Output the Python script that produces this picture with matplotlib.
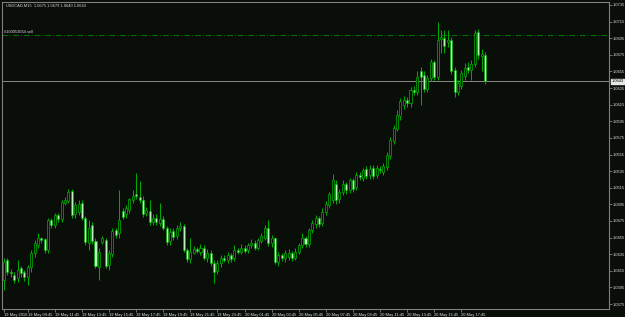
import numpy as np
import pandas as pd
import matplotlib
matplotlib.use('Agg')
import matplotlib.pyplot as plt

# USDCAD M15 candles (19 May 2016 08:00 onwards)
opens = [
    1.0404, 1.0428, 1.0414, 1.0410, 1.0406, 1.0418, 1.0413, 1.0408, 1.0419, 1.0436,
    1.0446, 1.0454, 1.0453, 1.0440, 1.0476, 1.0470, 1.0482, 1.0477, 1.0497, 1.0499,
    1.0511, 1.0483, 1.0486, 1.0497, 1.0479, 1.0449, 1.0470, 1.0451, 1.0420, 1.0450,
    1.0452, 1.0422, 1.0435, 1.0464, 1.0461, 1.0487, 1.0483, 1.0488, 1.0500, 1.0508,
    1.0504, 1.0500, 1.0484, 1.0487, 1.0474, 1.0479, 1.0473, 1.0477, 1.0467, 1.0451,
    1.0463, 1.0457, 1.0466, 1.0469, 1.0440, 1.0429, 1.0437, 1.0441, 1.0438, 1.0443,
    1.0431, 1.0436, 1.0424, 1.0415, 1.0424, 1.0430, 1.0428, 1.0434, 1.0430, 1.0440,
    1.0438, 1.0443, 1.0440, 1.0446, 1.0449, 1.0443, 1.0451, 1.0455, 1.0466, 1.0448,
    1.0454, 1.0426, 1.0434, 1.0430, 1.0432, 1.0436, 1.0431, 1.0438, 1.0446, 1.0454,
    1.0447, 1.0464, 1.0471, 1.0478, 1.0472, 1.0486, 1.0494, 1.0500, 1.0519, 1.0501,
    1.0510, 1.0519, 1.0512, 1.0524, 1.0516, 1.0530, 1.0527, 1.0538, 1.0530, 1.0539,
    1.0530, 1.0538, 1.0534, 1.0540, 1.0553, 1.0571, 1.0586, 1.0601, 1.0615, 1.0621,
    1.0617, 1.0633, 1.0630, 1.0655, 1.0651, 1.0634, 1.0647, 1.0666, 1.0648, 1.0694,
    1.0695, 1.0690, 1.0693, 1.0657, 1.0630, 1.0638, 1.0649, 1.0660, 1.0657, 1.0664,
    1.0702, 1.0674, 1.0675,
]
highs = [
    1.0431, 1.0431, 1.0417, 1.0413, 1.0428, 1.0421, 1.0416, 1.0422, 1.0440, 1.0452,
    1.0460, 1.0456, 1.0455, 1.0478, 1.0479, 1.0485, 1.0485, 1.0500, 1.0504, 1.0514,
    1.0514, 1.0498, 1.0500, 1.0500, 1.0481, 1.0476, 1.0474, 1.0454, 1.0442, 1.0457,
    1.0455, 1.0440, 1.0466, 1.0467, 1.0512, 1.0491, 1.0494, 1.0503, 1.0512, 1.0533,
    1.0523, 1.0505, 1.0492, 1.0500, 1.0483, 1.0483, 1.0497, 1.0481, 1.0469, 1.0466,
    1.0466, 1.0470, 1.0474, 1.0471, 1.0443, 1.0454, 1.0445, 1.0444, 1.0447, 1.0446,
    1.0441, 1.0440, 1.0428, 1.0428, 1.0434, 1.0434, 1.0438, 1.0437, 1.0446, 1.0443,
    1.0447, 1.0446, 1.0449, 1.0453, 1.0452, 1.0455, 1.0461, 1.0470, 1.0476, 1.0458,
    1.0456, 1.0438, 1.0437, 1.0440, 1.0441, 1.0439, 1.0442, 1.0449, 1.0461, 1.0457,
    1.0467, 1.0476, 1.0482, 1.0481, 1.0490, 1.0499, 1.0510, 1.0532, 1.0524, 1.0514,
    1.0524, 1.0522, 1.0527, 1.0527, 1.0534, 1.0534, 1.0539, 1.0541, 1.0542, 1.0542,
    1.0542, 1.0541, 1.0545, 1.0558, 1.0576, 1.0591, 1.0608, 1.0623, 1.0626, 1.0624,
    1.0636, 1.0638, 1.0655, 1.0660, 1.0655, 1.0651, 1.0670, 1.0669, 1.0714, 1.0705,
    1.0705, 1.0705, 1.0696, 1.0660, 1.0645, 1.0657, 1.0665, 1.0666, 1.0669, 1.0705,
    1.0706, 1.0682, 1.0679,
]
lows = [
    1.0392, 1.0410, 1.0408, 1.0400, 1.0402, 1.0407, 1.0403, 1.0398, 1.0414, 1.0432,
    1.0442, 1.0449, 1.0437, 1.0436, 1.0467, 1.0466, 1.0474, 1.0474, 1.0494, 1.0497,
    1.0478, 1.0478, 1.0482, 1.0476, 1.0446, 1.0440, 1.0447, 1.0418, 1.0404, 1.0447,
    1.0418, 1.0416, 1.0432, 1.0455, 1.0455, 1.0477, 1.0479, 1.0485, 1.0497, 1.0501,
    1.0497, 1.0480, 1.0481, 1.0470, 1.0470, 1.0470, 1.0469, 1.0464, 1.0446, 1.0446,
    1.0452, 1.0453, 1.0463, 1.0438, 1.0426, 1.0424, 1.0435, 1.0436, 1.0434, 1.0428,
    1.0426, 1.0421, 1.0400, 1.0411, 1.0420, 1.0425, 1.0424, 1.0426, 1.0427, 1.0435,
    1.0435, 1.0436, 1.0437, 1.0443, 1.0440, 1.0440, 1.0448, 1.0452, 1.0445, 1.0444,
    1.0423, 1.0421, 1.0427, 1.0425, 1.0428, 1.0427, 1.0428, 1.0435, 1.0443, 1.0444,
    1.0444, 1.0460, 1.0467, 1.0468, 1.0469, 1.0482, 1.0490, 1.0497, 1.0496, 1.0497,
    1.0506, 1.0508, 1.0509, 1.0510, 1.0512, 1.0524, 1.0523, 1.0526, 1.0526, 1.0526,
    1.0527, 1.0533, 1.0530, 1.0536, 1.0550, 1.0568, 1.0583, 1.0597, 1.0610, 1.0612,
    1.0612, 1.0627, 1.0627, 1.0615, 1.0630, 1.0630, 1.0643, 1.0645, 1.0645, 1.0677,
    1.0677, 1.0685, 1.0652, 1.0624, 1.0627, 1.0634, 1.0645, 1.0653, 1.0645, 1.0660,
    1.0670, 1.0656, 1.0640,
]
closes = [
    1.0426, 1.0413, 1.0412, 1.0404, 1.0416, 1.0412, 1.0407, 1.0419, 1.0436, 1.0448,
    1.0454, 1.0452, 1.0440, 1.0476, 1.0470, 1.0482, 1.0477, 1.0498, 1.0500, 1.0510,
    1.0482, 1.0494, 1.0496, 1.0479, 1.0450, 1.0467, 1.0451, 1.0421, 1.0438, 1.0454,
    1.0421, 1.0436, 1.0463, 1.0458, 1.0476, 1.0480, 1.0490, 1.0501, 1.0505, 1.0505,
    1.0500, 1.0483, 1.0488, 1.0474, 1.0478, 1.0474, 1.0477, 1.0467, 1.0450, 1.0462,
    1.0456, 1.0466, 1.0469, 1.0440, 1.0429, 1.0438, 1.0441, 1.0439, 1.0443, 1.0431,
    1.0437, 1.0424, 1.0414, 1.0424, 1.0431, 1.0428, 1.0434, 1.0429, 1.0440, 1.0438,
    1.0443, 1.0439, 1.0446, 1.0449, 1.0443, 1.0452, 1.0457, 1.0466, 1.0448, 1.0454,
    1.0426, 1.0434, 1.0430, 1.0436, 1.0436, 1.0430, 1.0438, 1.0446, 1.0454, 1.0447,
    1.0464, 1.0472, 1.0478, 1.0471, 1.0486, 1.0495, 1.0507, 1.0524, 1.0500, 1.0510,
    1.0519, 1.0512, 1.0524, 1.0514, 1.0530, 1.0528, 1.0536, 1.0529, 1.0538, 1.0529,
    1.0539, 1.0536, 1.0541, 1.0554, 1.0572, 1.0587, 1.0603, 1.0619, 1.0621, 1.0617,
    1.0633, 1.0630, 1.0648, 1.0648, 1.0634, 1.0647, 1.0666, 1.0648, 1.0693, 1.0696,
    1.0686, 1.0693, 1.0656, 1.0630, 1.0641, 1.0653, 1.0659, 1.0657, 1.0664, 1.0701,
    1.0675, 1.0676, 1.0643,
]
symbol = 'USDCAD,M15'
order_label = '#100053034 sell'
order_price = 1.0699
price_ticks = [1.0735, 1.0715, 1.0695, 1.0675, 1.0655, 1.0635, 1.0615, 1.0595, 1.0575, 1.0555,
               1.0535, 1.0515, 1.0495, 1.0475, 1.0455, 1.0435, 1.0415, 1.0395, 1.0375]

BG = '#090e09'
WICK = '#00a800'
BEAR_FILL = '#b6f5b6'
GREY = '#808080'
FS = 2.9
plt.rcParams['font.family'] = ['Liberation Sans', 'DejaVu Sans']

o, h, l, c = map(np.array, (opens, highs, lows, closes))
n = len(o)
idx = np.arange(n)
times = pd.date_range('2016-05-19 08:00', periods=n, freq='15min')

fig = plt.figure(figsize=(6.25, 3.17), dpi=100, facecolor=BG)
ax = fig.add_axes([2 / 625, 8 / 317, 607 / 625, 307 / 317], facecolor=BG)

# candles
ax.vlines(idx, l, h, color=WICK, lw=0.75, zorder=2)
bull = c >= o
body_lo = np.minimum(o, c)
body_h = np.maximum(np.abs(c - o), 0.00003)
ax.bar(idx[bull], body_h[bull], bottom=body_lo[bull], width=0.6,
       color=BG, edgecolor=WICK, linewidth=0.55, zorder=3)
ax.bar(idx[~bull], body_h[~bull], bottom=body_lo[~bull], width=0.6,
       color=BEAR_FILL, edgecolor=WICK, linewidth=0.45, zorder=3)

# order line and bid line
ax.axhline(order_price, color='#007a00', ls=(0, (6, 2, 1, 2)), lw=0.7, zorder=1)
ax.text(0.004, order_price + 0.00012, order_label, transform=ax.get_yaxis_transform(),
        color='#d8d8d8', fontsize=FS, va='bottom', ha='left')
ax.axhline(c[-1], color='#8a8a8a', lw=0.7, zorder=1)
ax.annotate(f'{c[-1]:.4f}', xy=(1.0, c[-1]), xycoords=('axes fraction', 'data'),
            xytext=(1.8, 0), textcoords='offset points', fontsize=FS, color='black',
            va='center', ha='left',
            bbox=dict(boxstyle='square,pad=0.12', fc='#e6e6e6', ec='#e6e6e6'),
            annotation_clip=False)

fig.text(6 / 625, 1 - 6 / 317,
         f'{symbol}  {o[-1]:.4f} {h[-1]:.4f} {l[-1]:.4f} {c[-1]:.4f}',
         color='#d8d8d8', fontsize=FS, va='center', ha='left')

# axes
ax.set_xlim(-0.6, 178.6)
ax.set_ylim(1.0369, 1.07386)
ax.yaxis.tick_right()
ax.set_yticks(price_ticks)
ax.set_yticklabels([f'{p:.4f}' for p in price_ticks])

tick_pos = [0] + [i for i, t in enumerate(times) if t.minute == 45 and t.hour % 2 == 1]
tick_lab = [times[i].strftime('%d %b %Y') if i == 0 else times[i].strftime('%d %b %H:%M')
            for i in tick_pos]
ax.set_xticks(tick_pos)
ax.set_xticklabels(tick_lab, ha='left')
ax.tick_params(colors=GREY, labelcolor='#e0e0e0', labelsize=FS, length=2, width=0.6, pad=0.8)
for s in ax.spines.values():
    s.set_color(GREY)
    s.set_linewidth(0.8)

fig.savefig('out.png', dpi=100, facecolor=BG)
